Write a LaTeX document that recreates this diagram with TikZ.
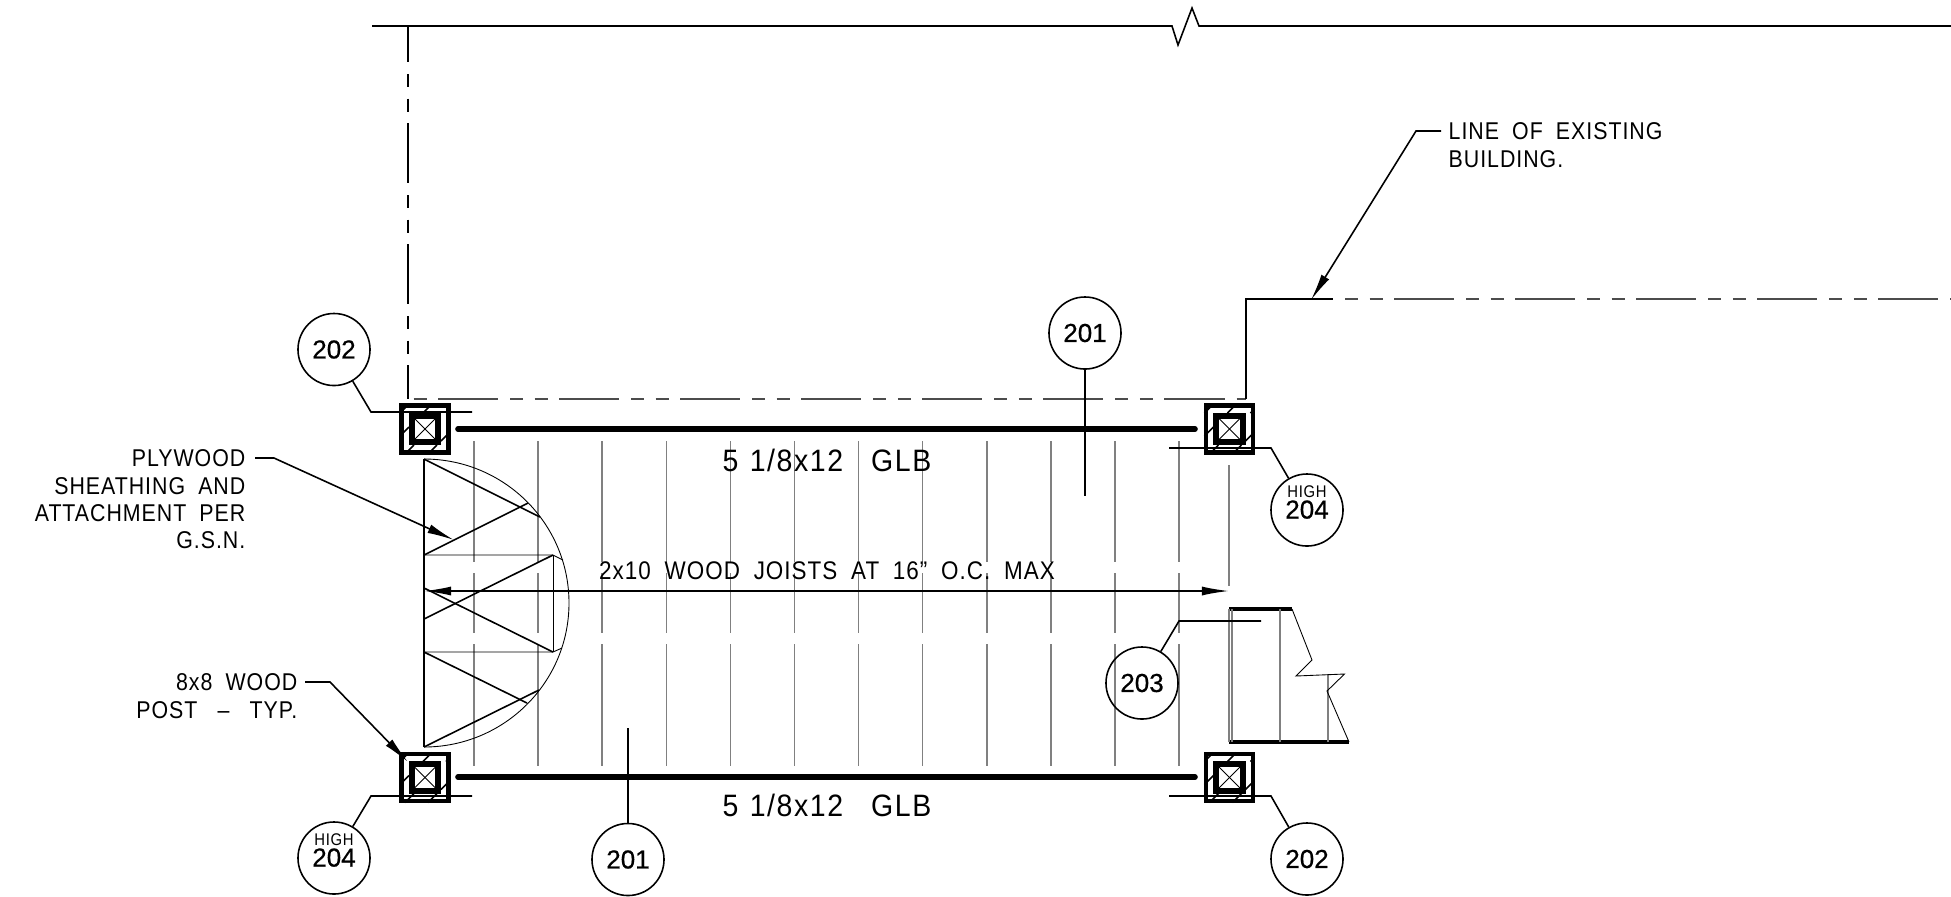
\documentclass[tikz,border=0pt]{standalone}
\usepackage{fontspec}
\setmainfont[WordSpace=1.9,FakeStretch=0.88,LetterSpace=4]{Liberation Sans}
\newfontfamily\tagfont[FakeBold=0.6]{Liberation Sans}
\newfontfamily\glbfont[WordSpace=1.2,FakeStretch=0.92,LetterSpace=5]{Liberation Sans}
\usetikzlibrary{arrows.meta}
\tikzset{
  >={Latex[length=0.27cm,width=0.09cm]},
  wall/.style={line width=0.45pt},
  dashwall/.style={line width=0.42pt,dash pattern=on 0.6cm off 0.12cm on 0.13cm off 0.115cm on 0.13cm off 0.115cm},
  joist/.style={line width=0.42pt,black!50},
  thin/.style={line width=0.25pt},
  beam/.style={line width=1.6pt,line cap=round},
  tread/.style={line width=1pt},
  tag/.style={circle,draw,line width=0.45pt,minimum size=0.72cm,inner sep=0pt,align=center,font=\tagfont\fontsize{7.4}{7.4}\selectfont},
  note/.style={inner sep=0pt,font=\fontsize{6.9}{7.8}\selectfont},
  glbnote/.style={inner sep=0pt,font=\glbfont\fontsize{8.8}{8.8}\selectfont},
  postouter/.style={draw,line width=1.25pt,minimum size=0.47cm,inner sep=0pt},
  postinner/.style={draw,line width=1.7pt,minimum size=0.265cm,inner sep=0pt},
  postcore/.style={minimum size=0.21cm,inner sep=0pt}
}
\newcommand{\hightag}{\raisebox{4.4pt}{\shortstack[c]{\normalfont\fontsize{4.8}{4.8}\selectfont HIGH\\[-2.3pt]\tagfont\fontsize{7.4}{7.4}\selectfont 204}}}
\begin{document}
\begin{tikzpicture}[x=0.01cm,y=-0.01cm]
    \useasboundingbox (0,0) rectangle (1951,896);
    \draw[wall] (372,26) -- (1172,26) -- (1178,45) -- (1192,8) -- (1199,26) -- (1951,26);
    \draw[dashwall,dash phase=0.24cm] (408,26) -- (408,399);
    \draw[dashwall,black!70,dash phase=0.91cm] (408,399) -- (1246,399);
    \draw[line width=0.38pt] (1246,399) -- (1246,299) -- (1333,299);
    \draw[dashwall,black!70,dash phase=0.72cm] (1345,299) -- (1951,299);
    \foreach \jx in {474,538.1,602.2,666.3,730.4,794.5,858.6,922.7,986.8,1050.9,1115,1179}{
        \draw[joist] (\jx,441) -- (\jx,562);
        \draw[joist] (\jx,573) -- (\jx,633);
        \draw[joist] (\jx,644) -- (\jx,766);
    }
    \draw[joist] (1229,465) -- (1229,586);
    \draw[thin] (424,459) arc[start angle=90,end angle=-90,x radius=145,y radius=-144];
    \draw[wall] (424,459) -- (424,747);
    \draw[wall] (424,459) -- (540,517);
    \draw[wall] (424,555) -- (528,503);
    \draw[thin] (424,555) -- (553,555) -- (563,560);
    \draw[wall] (424,619) -- (553,555);
    \draw[thin] (553,555) -- (553,652);
    \draw[wall] (424,588) -- (553,652);
    \draw[thin] (424,652) -- (553,652) -- (562,648);
    \draw[wall] (424,652) -- (527,703);
    \draw[wall] (424,747) -- (539,690);
    \foreach \name/\px/\py in {postTL/425/429,postTR/1229.5/429,postBL/425/777.5,postBR/1229.5/777.5}{
        \node[postouter] (\name) at (\px,\py) {};
        \node[postinner] (\name in) at (\px,\py) {};
        \node[postcore] (\name core) at (\px,\py) {};
        \draw[thin] (\name core.north west) -- (\name core.south east);
        \draw[thin] (\name core.south west) -- (\name core.north east);
        \begin{scope}[shift={(\px,\py)}]
            \draw[wall] (-16,-25) -- (-25,-16);
            \draw[wall] (7,-25) -- (-2,-16);
            \draw[wall] (-16,-2) -- (-25,7);
            \draw[wall] (25,-20) -- (21,-16);
            \draw[wall] (-11,16) -- (-20,25);
            \draw[wall] (25,3) -- (16,12);
            \draw[wall] (12,16) -- (3,25);
        \end{scope}
    }
    \coordinate (beamTa) at (458,429);
    \coordinate (beamTb) at (1195,429);
    \coordinate (beamBa) at (458,777);
    \coordinate (beamBb) at (1195,777);
    \draw[beam] (beamTa) -- (beamTb);
    \draw[beam] (beamBa) -- (beamBb);
    \node[glbnote] (glbT) at (827,460) {5 1/8x12\hspace{8pt}GLB};
    \node[glbnote] (glbB) at (827,805) {5 1/8x12\hspace{8pt}GLB};
    \node[note,font=\fontsize{7.25}{7.8}\selectfont] (joists) at (827,571) {2x10 WOOD JOISTS AT 16” O.C. MAX};
    \coordinate (spanL) at (424,591);
    \coordinate (spanR) at (1229,591);
    \draw[<->,wall] (spanL) -- (spanR);
    \draw[tread] (1229,609) -- (1292,609);
    \draw[tread] (1229,742) -- (1349,742);
    \draw[joist] (1229,609) -- (1229,742);
    \draw[joist] (1232,609) -- (1232,742);
    \draw[joist] (1280,609) -- (1280,742);
    \draw[joist] (1328,674) -- (1328,742);
    \draw[thin] (1292,609) -- (1312,660) -- (1296,676) -- (1344.5,674) -- (1327,691) -- (1349,742);
    \node[tag] (tagTL) at (334,349.5) {202};
    \coordinate (kneeTL) at (371,412);
    \coordinate (endTL) at (472,412);
    \draw[wall] (tagTL) -- (kneeTL) -- (endTL);
    \node[tag] (tagTM) at (1085,333) {201};
    \coordinate (endTM) at (1085,496);
    \draw[wall] (tagTM) -- (endTM);
    \node[tag] (tagTR) at (1307,510) {\hightag};
    \coordinate (kneeTR) at (1271,448);
    \coordinate (endTR) at (1169,448);
    \draw[wall] (tagTR) -- (kneeTR) -- (endTR);
    \node[tag] (tagBL) at (334,858) {\hightag};
    \coordinate (kneeBL) at (371,796);
    \coordinate (endBL) at (472,796);
    \draw[wall] (tagBL) -- (kneeBL) -- (endBL);
    \node[tag] (tagBM) at (628,859.5) {201};
    \coordinate (endBM) at (628,728);
    \draw[wall] (tagBM) -- (endBM);
    \node[tag] (tagBR) at (1307,859) {202};
    \coordinate (kneeBR) at (1271,796);
    \coordinate (endBR) at (1169,796);
    \draw[wall] (tagBR) -- (kneeBR) -- (endBR);
    \node[tag] (tagStair) at (1142,683) {203};
    \coordinate (kneeStair) at (1179,621);
    \coordinate (endStair) at (1261,621);
    \draw[wall] (tagStair) -- (kneeStair) -- (endStair);
    \node[note,anchor=north west,align=left] (noteBldg) at (1448,122) {LINE OF EXISTING\\BUILDING.};
    \coordinate (kneeBldg) at (1416,131);
    \coordinate (startBldg) at (1441,131);
    \coordinate (tipBldg) at (1311,300);
    \draw[->,wall] (startBldg) -- (kneeBldg) -- (tipBldg);
    \node[note,anchor=north east,align=right] (notePly) at (246,449) {PLYWOOD\\SHEATHING AND\\ATTACHMENT PER\\G.S.N.};
    \coordinate (kneePly) at (274,458);
    \coordinate (startPly) at (255,458);
    \coordinate (tipPly) at (454,540);
    \draw[->,wall] (startPly) -- (kneePly) -- (tipPly);
    \node[note,anchor=north east,align=right] (notePost) at (298,673) {8x8 WOOD\\POST\hspace{2pt} –\hspace{2pt} TYP.};
    \coordinate (kneePost) at (330,682);
    \coordinate (startPost) at (305,682);
    \coordinate (tipPost) at (408,762);
    \draw[->,wall] (startPost) -- (kneePost) -- (tipPost);
\end{tikzpicture}
\end{document}
